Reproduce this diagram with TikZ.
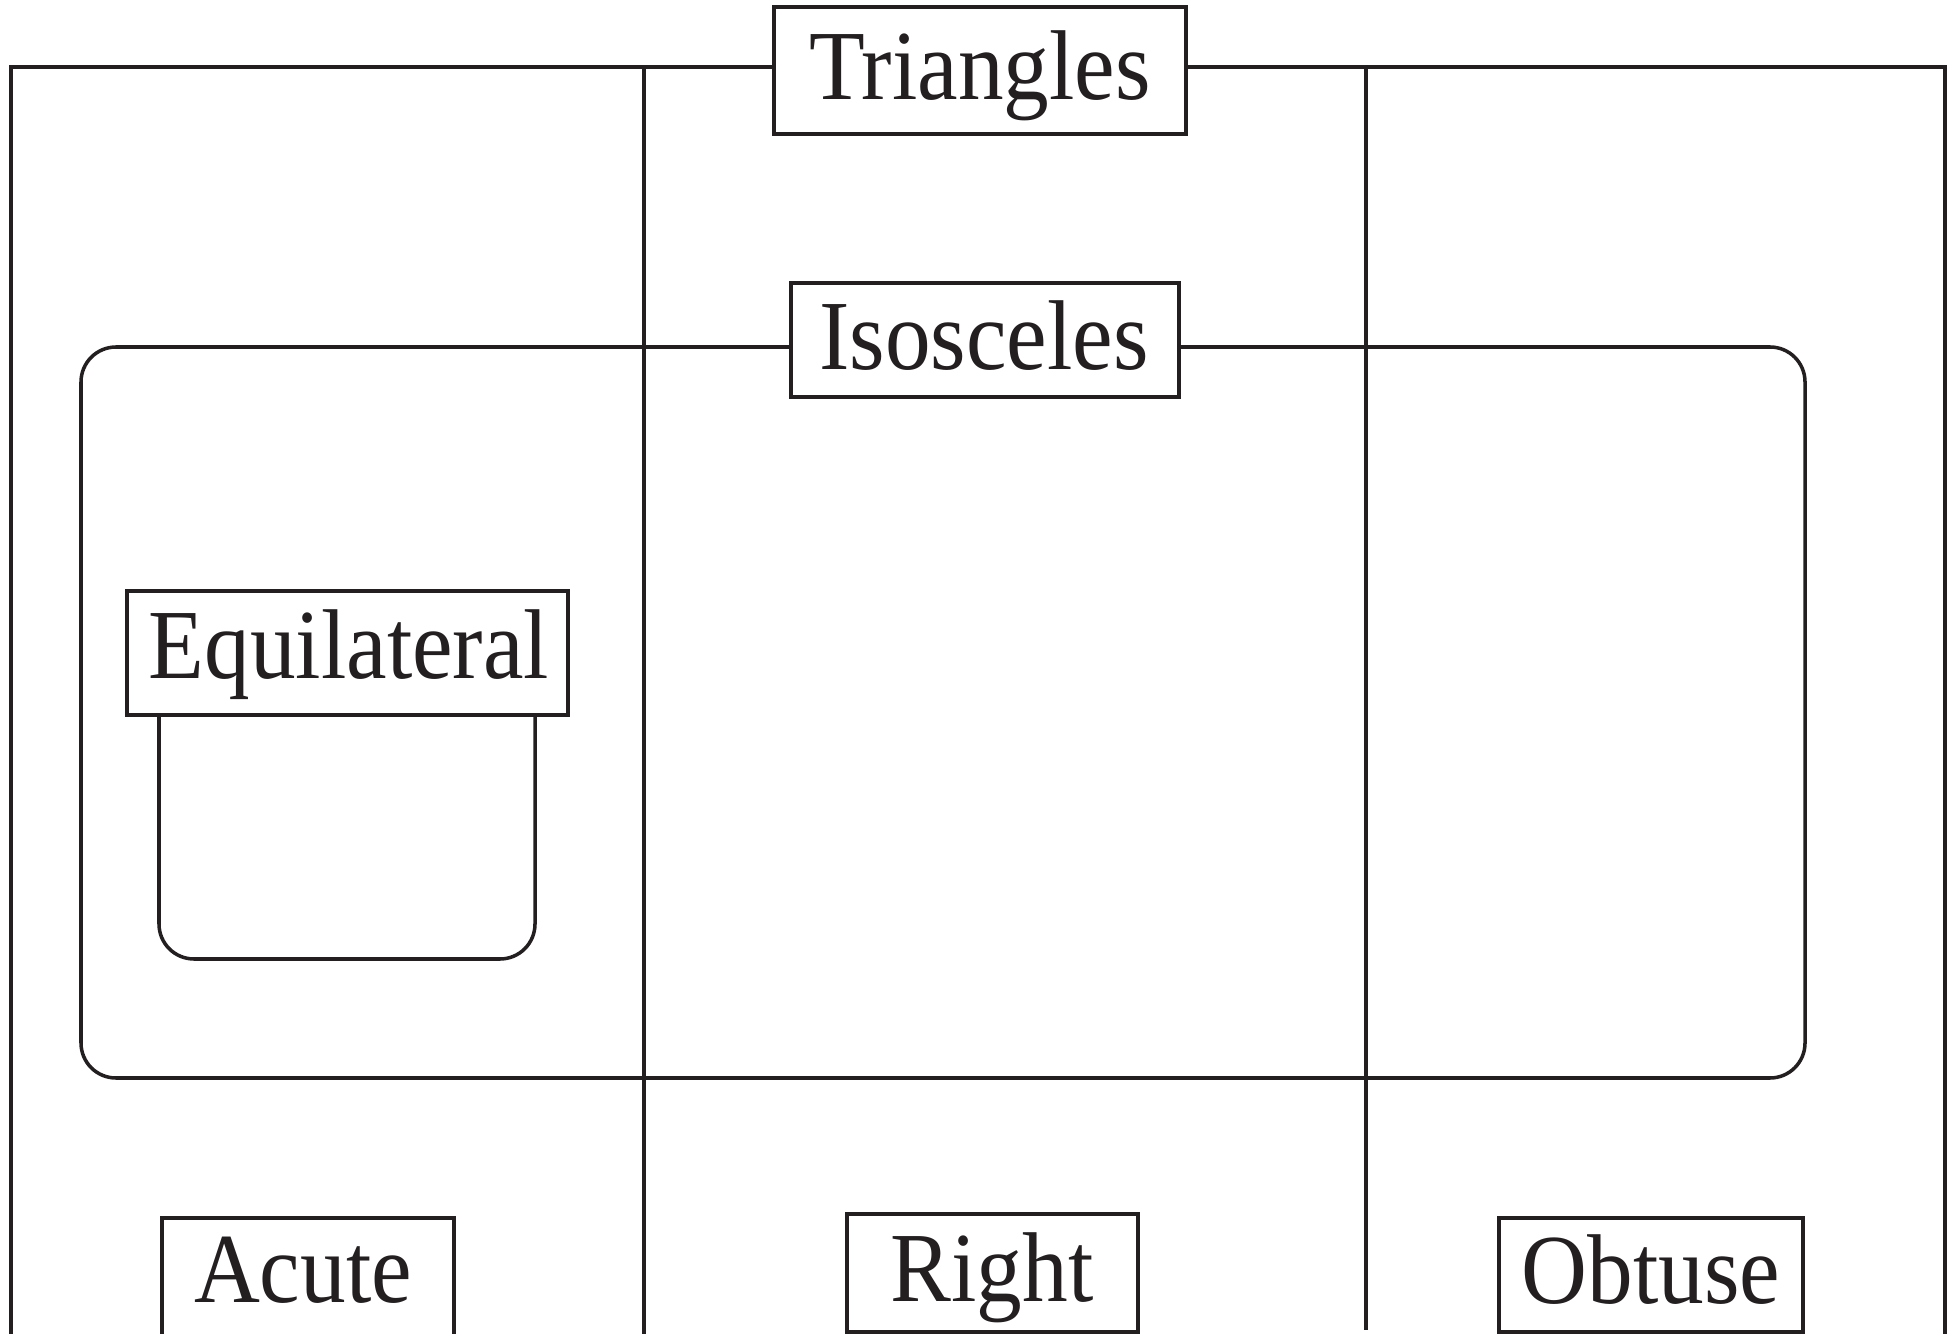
\documentclass[tikz,border=0pt]{standalone}
\usepackage{fontspec}
\setmainfont{Liberation Serif}
\definecolor{ink}{RGB}{35,31,32}
\newcommand{\lbl}[1]{\scalebox{0.92}[1]{\fontsize{28.2}{32}\selectfont #1}}
\begin{document}
\begin{tikzpicture}[x=0.01cm,y=-0.01cm,
  thickline/.style={draw=ink,line width=1.4pt},
  thinline/.style={draw=ink,line width=1.0pt},
  labeltext/.style={anchor=base,inner sep=0pt,text=ink}]
\useasboundingbox (0,0) rectangle (1952,1334);
% outer frame
\draw[thickline] (11,1340) -- (11,67) -- (1945,67) -- (1945,1340);
% dividers
\draw[thinline] (644,67) -- (644,1340);
\draw[thinline] (1366,67) -- (1366,1330);
% isosceles region
\draw[thinline,rounded corners=0.35cm] (81,347) rectangle (1805,1078);
% equilateral region
\draw[thinline,rounded corners=0.35cm] (159,700) -- (159,959) -- (535,959) -- (535,700);
% label boxes
\draw[thickline,fill=white] (774,7) rectangle (1186,134);
\draw[thinline,fill=white] (791,283) rectangle (1179,397);
\draw[thinline,fill=white] (127,591) rectangle (568,715);
\draw[thinline,fill=white] (162,1218) rectangle (454,1345);
\draw[thinline,fill=white] (847,1214) rectangle (1138,1332);
\draw[thinline,fill=white] (1499,1218) rectangle (1803,1332);
% texts
\node[labeltext] (tri) at (980,100) {\lbl{Triangles}};
\node[labeltext] (iso) at (984,370) {\lbl{Isosceles}};
\node[labeltext] (equ) at (349,679) {\lbl{Equilateral}};
\node[labeltext] (acu) at (303,1302) {\lbl{Acute}};
\node[labeltext] (rig) at (992,1301) {\lbl{Right}};
\node[labeltext] (obt) at (1651,1303) {\lbl{Obtuse}};
\end{tikzpicture}
\end{document}
